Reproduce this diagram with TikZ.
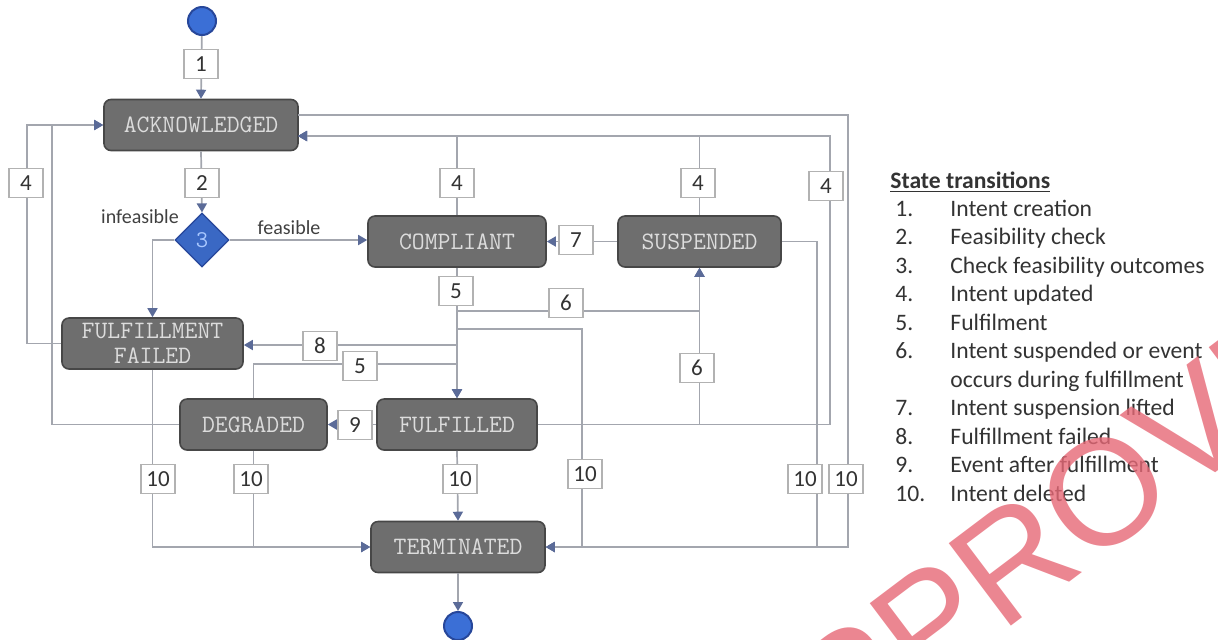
\documentclass[tikz,border=0pt]{standalone}
\usepackage{fontspec}
\setmainfont{Carlito}
\newfontfamily\wmfont{Liberation Sans}
\usetikzlibrary{arrows.meta,shapes.geometric,calc}
\definecolor{stfill}{HTML}{6E6E6E}
\definecolor{stdraw}{HTML}{474747}
\definecolor{sttext}{HTML}{DCDCDC}
\definecolor{linec}{HTML}{A3A6AE}
\definecolor{arrc}{HTML}{5B6B98}
\definecolor{blueA}{HTML}{3B6FD6}
\definecolor{blueB}{HTML}{27479A}
\definecolor{diafill}{HTML}{3A68C4}
\definecolor{diatext}{HTML}{A9C8FF}
\definecolor{wmred}{RGB}{230,104,118}
\tikzset{
  state/.style={rectangle, rounded corners=3.5pt, draw=stdraw, line width=0.8pt,
    fill=stfill, text=sttext, font=\ttfamily\fontsize{12.5}{12.5}\selectfont,
    minimum height=25.5pt, inner sep=1pt, align=center},
  conn/.style={draw=linec, line width=0.85pt,
    -{Triangle[width=5pt,length=4.5pt,color=arrc]}},
  lbl/.style={draw=gray!60, line width=0.6pt, fill=white, text=black!80,
    font=\fontsize{11.5}{13}\selectfont, minimum width=17pt, minimum height=14.5pt,
    inner sep=1pt},
  endpt/.style={circle, draw=blueB, line width=1pt, fill=blueA,
    minimum size=14pt, inner sep=0pt},
  decision/.style={diamond, aspect=1, draw=blueB, line width=0.6pt, fill=diafill,
    text=diatext, font=\ttfamily\fontsize{12}{12}\selectfont,
    minimum width=27pt, minimum height=27pt, inner sep=0pt},
  guard/.style={inner sep=0pt, text=black!75, font=\fontsize{10}{12}\selectfont},
  legend/.style={anchor=base west, inner sep=0pt, text=black!80,
    font=\fontsize{11.8}{14.25}\selectfont},
}
\begin{document}
\begin{tikzpicture}[x=0.5pt,y=-0.5pt]
\useasboundingbox (0,0) rectangle (1218,639);

% states
\node[endpt] (startc) at (202,21) {};
\node[state, minimum width=97pt] (ack) at (201,125) {ACKNOWLEDGED};
\node[decision] (dia) at (202,240) {3};
\node[state, minimum width=89pt] (comp) at (457,241.5) {COMPLIANT};
\node[state, minimum width=81.5pt] (susp) at (699.5,241.5) {SUSPENDED};
\node[state, minimum width=90.5pt] (ff) at (152.5,343.5) {FULFILLMENT\\FAILED};
\node[state, minimum width=73.5pt] (deg) at (253.5,424.5) {DEGRADED};
\node[state, minimum width=80pt] (ful) at (457,424.5) {FULFILLED};
\node[state, minimum width=87pt] (term) at (458,547) {TERMINATED};
\node[endpt] (endc) at (458,626) {};

% helper coordinates
\coordinate (ackin) at (298,136);
\coordinate (ackout) at (298,115);
\coordinate (xL1) at (27,200);
\coordinate (xL2) at (52,200);
\coordinate (xR1) at (830,300);
\coordinate (xR2) at (817,400);
\coordinate (xR3) at (848,300);
\coordinate (xM) at (582,450);
\coordinate (j6) at (457,311);
\coordinate (j10) at (457,329);
\coordinate (j8) at (457,345);
\coordinate (j5) at (457,364);

% connectors
\draw[conn] (startc) -- (ack.north);
\draw[conn] (ack.south) -- (dia.north);
\draw[conn] (dia.east) -- (dia.east -| comp.west);
\draw[conn] (dia.west) -| (ff.north);
\draw[conn] (ff.west) -| (xL1) |- (ack.west);
\draw[conn] (deg.west) -| (xL2) |- (ack.west);
\draw[conn] (comp.north) |- (ackin);
\draw[conn] (susp.north) |- (ackin);
\draw[conn] (ful.east) -| (xR1) |- (ackin);
\draw[conn] (ackout) -| (xR3) |- (term.east);
\draw[conn] (susp.west) -- (comp.east);
\draw[conn] (susp.east) -| (xR2) |- (term.east);
\draw[conn] (comp.south) -- (ful.north);
\draw[conn] (comp.south) -- (j6) -| (susp.south);
\draw[conn] (comp.south) -- (j10) -| (xM) |- (term.east);
\draw[conn] (comp.south) -- (j8) -- (ff.east |- j8);
\draw[conn] (deg.north) |- (j5) -- (ful.north);
\draw[conn] (ful.east) -| (susp.south);
\draw[conn] (ful.west) -- (deg.east);
\draw[conn] (ff.south) |- (term.west);
\draw[conn] (deg.south) |- (term.west);
\draw[conn] (ful.south) -- (term.north);
\draw[conn] (term.south) -- (endc.north);

% guards
\node[guard] (ginf) at (140,217) {infeasible};
\node[guard] (gfea) at (289,228) {feasible};

% transition labels
\node[lbl] (l1) at (201,64) {1};
\node[lbl] (l2) at (202,183) {2};
\node[lbl] (l4a) at (26,183) {4};
\node[lbl] (l4b) at (457,183) {4};
\node[lbl] (l4c) at (698,183) {4};
\node[lbl] (l4d) at (826,186) {4};
\node[lbl] (l5a) at (456,291) {5};
\node[lbl] (l6a) at (566,303) {6};
\node[lbl] (l7) at (576,240) {7};
\node[lbl] (l8) at (320,346) {8};
\node[lbl] (l5b) at (360,366) {5};
\node[lbl] (l6b) at (697,368) {6};
\node[lbl] (l9) at (355,425) {9};
\node[lbl] (l10a) at (158,479) {10};
\node[lbl] (l10b) at (251,479) {10};
\node[lbl] (l10c) at (460,479) {10};
\node[lbl] (l10d) at (585,474) {10};
\node[lbl] (l10e) at (805,479) {10};
\node[lbl] (l10f) at (846,479) {10};

% legend
\node[legend, font=\bfseries\fontsize{11.8}{14.25}\selectfont] (legt) at (890,188) {\underline{State transitions}};
\node[legend] (n1) at (895,216) {1.};   \node[legend] (t1) at (950,216) {Intent creation};
\node[legend] (n2) at (895,244.5) {2.}; \node[legend] (t2) at (950,244.5) {Feasibility check};
\node[legend] (n3) at (895,273) {3.};   \node[legend] (t3) at (950,273) {Check feasibility outcomes};
\node[legend] (n4) at (895,301.5) {4.}; \node[legend] (t4) at (950,301.5) {Intent updated};
\node[legend] (n5) at (895,330) {5.};   \node[legend] (t5) at (950,330) {Fulfilment};
\node[legend] (n6) at (895,358.5) {6.}; \node[legend] (t6) at (950,358.5) {Intent suspended or event};
\node[legend] (t6b) at (950,387) {occurs during fulfillment};
\node[legend] (n7) at (895,415.5) {7.}; \node[legend] (t7) at (950,415.5) {Intent suspension lifted};
\node[legend] (n8) at (895,444) {8.};   \node[legend] (t8) at (950,444) {Fulfillment failed};
\node[legend] (n9) at (895,472.5) {9.}; \node[legend] (t9) at (950,472.5) {Event after fulfillment};
\node[legend] (n10) at (895,501) {10.}; \node[legend] (t10) at (950,501) {Intent deleted};

% watermark
\begin{scope}
\clip (0,0) rectangle (1218,639);
\node[anchor=center, rotate=37, inner sep=0pt, text=wmred, text opacity=0.8,
  font=\wmfont\fontsize{75}{75}\selectfont] (wmk) at (1064,522) {APPROVED};
\end{scope}
\end{tikzpicture}
\end{document}
